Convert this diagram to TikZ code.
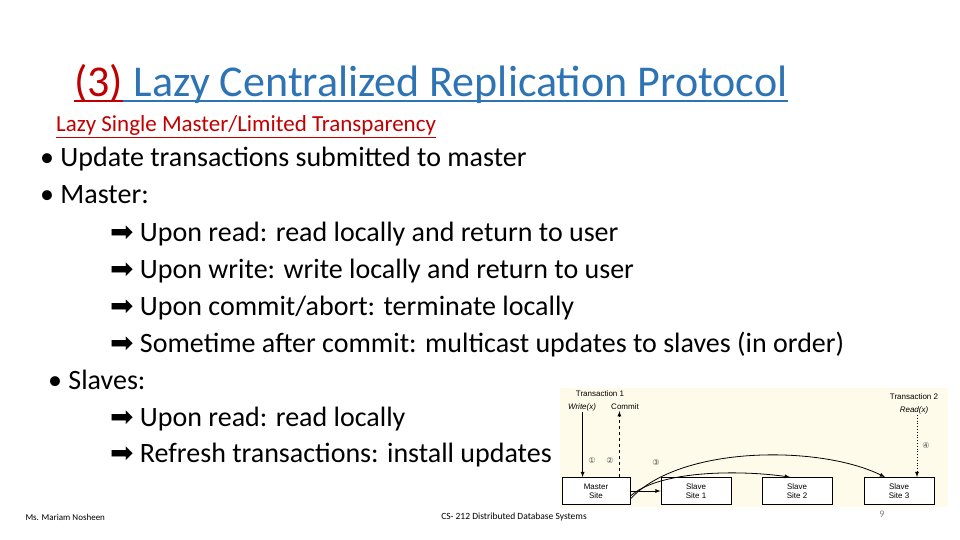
\documentclass[tikz,border=0pt]{standalone}
\usepackage{fontspec}
\setmainfont{Carlito}
\newfontfamily\symfont{DejaVu Sans}
\newfontfamily\figfont{Liberation Sans}
\usetikzlibrary{positioning}
\definecolor{titleblue}{HTML}{2E74B5}
\definecolor{subred}{HTML}{C00000}
\definecolor{figbg}{HTML}{FFFBEA}
\newcommand{\arr}{{\symfont\char"27A1}\ }
\newcommand{\ul}[1]{\underline{#1}}

\begin{document}
\begin{tikzpicture}[x=1pt,y=-1pt]
\tikzstyle{line}=[anchor=base west, font=\fontsize{28}{30}\selectfont, inner sep=0pt]
\tikzstyle{site}=[draw, line width=0.8pt, fill=white, minimum width=70pt, minimum height=27pt, align=center, inner sep=0pt, font=\figfont\fontsize{8}{9}\selectfont]
\tikzstyle{small}=[font=\figfont\fontsize{8}{9}\selectfont, inner sep=1pt]
\tikzstyle{circ}=[font=\symfont\fontsize{8}{9}\selectfont, text=black!70, inner sep=1pt]
\tikzstyle{arrow}=[line width=0.8pt, ->, >=latex]

\useasboundingbox (0,0) rectangle (960,540);

% title
\node[anchor=base west, inner sep=0pt, text=subred, font=\fontsize{44}{48}\selectfont] (num) at (74,97) {(3)};
\node[anchor=base west, inner sep=0pt, text=titleblue, font=\fontsize{44}{48}\selectfont] (title) at (num.base east) {\ Lazy Centralized Replication Protocol};
\draw[subred, line width=2pt] (num.base west) ++(0,4) coordinate (u0) -- (u0 -| num.east);
\draw[titleblue, line width=2pt] (title.base west) ++(0,4) coordinate (u1) -- (u1 -| title.east);
\node[anchor=base west, inner sep=0pt, text=subred, font=\fontsize{23}{25}\selectfont] (sub) at (56,132)
  {\ul{Lazy Single Master/Limited Transparency}};

% body
\node[line] (l1) at (40,167) {• Update transactions submitted to master};
\node[line] (l2) at (40,204) {• Master:};
\node[line] (l3) at (110,241) {\arr Upon read: read locally and return to user};
\node[line] (l4) at (110,278) {\arr Upon write: write locally and return to user};
\node[line] (l5) at (110,315) {\arr Upon commit/abort: terminate locally};
\node[line] (l6) at (110,352) {\arr Sometime after commit: multicast updates to slaves (in order)};
\node[line] (l7) at (48,389) {• Slaves:};
\node[line] (l8) at (110,426) {\arr Upon read: read locally};
\node[line] (l9) at (110,462) {\arr Refresh transactions: install updates};

% figure
\fill[figbg] (560,388) rectangle (948,507);
\node[site, minimum width=68pt] (master) at (596,491) {Master\\Site};
\node[site] (s1) at (696,491) {Slave\\Site 1};
\node[site] (s2) at (797,491) {Slave\\Site 2};
\node[site] (s3) at (899,491) {Slave\\Site 3};

\node[small] (t1) at (600,394) {Transaction 1};
\node[small] (wx) at (582,407) {\itshape Write(x)};
\node[small] (cm) at (625,407) {Commit};
\node[small] (t2) at (914,397) {Transaction 2};
\node[small] (rx) at (914,410) {\itshape Read(x)};
\node[circ] (c1) at (592,461) {①};
\node[circ] (c2) at (610,461) {②};
\node[circ] (c3) at (656,463) {③};
\node[circ] (c4) at (926,446) {④};

\draw[arrow] (wx.south -| master.north west) ++(21,0) coordinate (w0) -- (w0 |- master.north);
\draw[arrow, dashed] (master.north east) ++(-11,0) coordinate (k0) -- (k0 |- cm.south);
\draw[arrow, dotted] (rx.south) ++(3,0) coordinate (r0) -- (r0 |- s3.north);
\draw[arrow] (master.east) -- (s1.west);
\draw[arrow] ([yshift=-5pt]master.east) .. controls (660,470) and (740,470) .. ([xshift=-7pt]s2.north);
\draw[arrow] ([yshift=-8pt]master.east) .. controls (680,445) and (820,445) .. ([xshift=-14pt]s3.north);

% footer
\node[anchor=west, font=\fontsize{9}{10}\selectfont] (auth) at (22,517) {Ms. Mariam Nosheen};
\node[font=\fontsize{9.5}{10}\selectfont] (course) at (514,517) {CS- 212 Distributed Database Systems};
\node[text=gray, font=\fontsize{10}{11}\selectfont] (page) at (882,514) {9};
\end{tikzpicture}
\end{document}
